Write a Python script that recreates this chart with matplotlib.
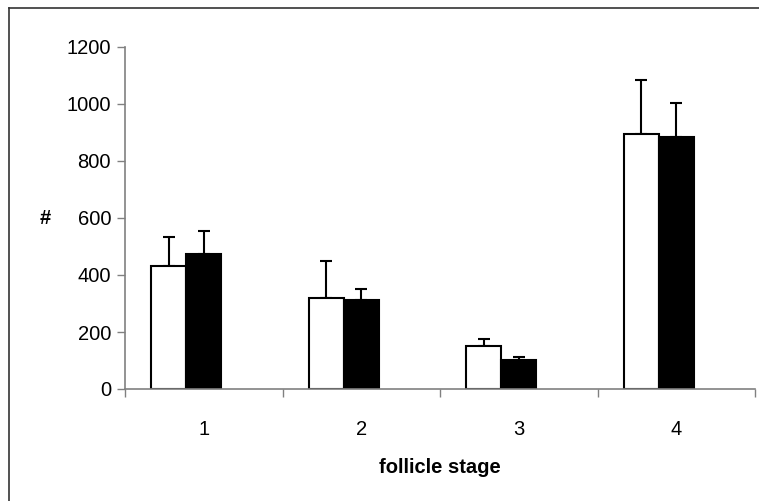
import matplotlib
matplotlib.use("Agg")
import matplotlib.pyplot as plt
from matplotlib.lines import Line2D
import numpy as np

plt.rcParams['font.family'] = ['Liberation Sans', 'DejaVu Sans']

categories = ["1", "2", "3", "4"]
white_vals = [430, 319, 150, 895]
white_err = [104, 129, 25, 188]
black_vals = [474, 313, 101, 885]
black_err = [79, 37, 12, 117]
y_ticks = [0, 200, 400, 600, 800, 1000, 1200]

W, H = 759, 501
fig = plt.figure(figsize=(W / 100, H / 100), dpi=100)
ax = fig.add_axes([125 / W, 1 - 389 / H, (755 - 125) / W, (389 - 47) / H])

x = np.arange(len(categories))
bw = 35 / 157.5
grey = "#808080"
fs = 14.5

ax.bar(x - bw, white_vals, width=bw, color="white", edgecolor="black",
       linewidth=1.5, zorder=3)
ax.bar(x, black_vals, width=bw, color="black", edgecolor="black",
       linewidth=1.5, zorder=3)
ax.errorbar(x - bw, white_vals, yerr=[np.zeros(4), white_err], fmt="none",
            ecolor="black", elinewidth=1.5, capsize=4.5, capthick=1.5, zorder=2)
ax.errorbar(x, black_vals, yerr=[np.zeros(4), black_err], fmt="none",
            ecolor="black", elinewidth=1.5, capsize=4.5, capthick=1.5, zorder=2)

ax.set_xlim(-0.5, len(categories) - 0.5)
ax.set_ylim(0, 1200)
ax.set_yticks(y_ticks)
ax.set_yticklabels([str(v) for v in y_ticks], fontsize=fs)

ax.set_xticks(x)
ax.set_xticklabels(categories, fontsize=fs)
ax.tick_params(axis='x', which='major', length=0, pad=22)
ax.set_xticks(np.arange(-0.5, len(categories) + 0.5, 1), minor=True)
ax.tick_params(axis='x', which='minor', length=6, width=1, color=grey, direction='out')
ax.tick_params(axis='y', length=6, width=1, color=grey, direction='out', pad=4)

for s in ['top', 'right']:
    ax.spines[s].set_visible(False)
for s in ['left', 'bottom']:
    ax.spines[s].set_color(grey)
    ax.spines[s].set_linewidth(1.2)
ax.spines['bottom'].set_zorder(4)

ax.set_xlabel("follicle stage", fontsize=fs, fontweight='bold', labelpad=14)
fig.text(45 / W, 1 - 218 / H, "#", fontsize=fs, fontweight='bold',
         ha='center', va='center')

# outer chart frame (cropped at right and bottom)
fig.add_artist(Line2D([9 / W, 9 / W], [0, 1 - 8 / H], color="#333333", lw=1.2,
                      transform=fig.transFigure))
fig.add_artist(Line2D([9 / W, 1], [1 - 8 / H, 1 - 8 / H], color="#333333", lw=1.2,
                      transform=fig.transFigure))

fig.savefig("out.png", dpi=100)
